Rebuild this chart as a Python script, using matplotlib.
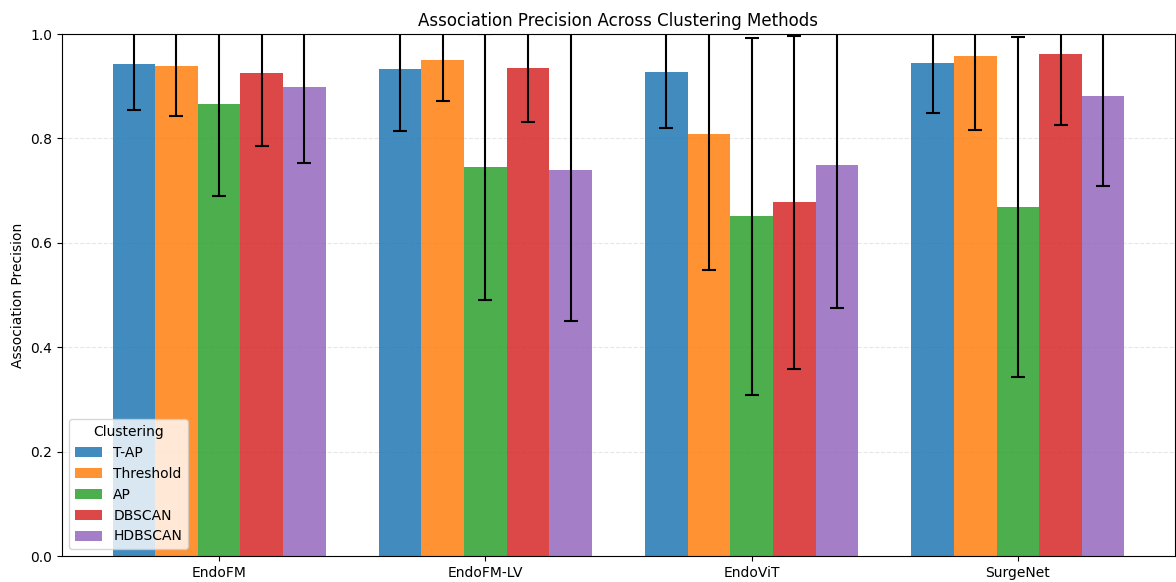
import numpy as np
import matplotlib
matplotlib.use("Agg")
import matplotlib.pyplot as plt

# mean association precision and std per backbone / clustering method
backbones = ["EndoFM", "EndoFM-LV", "EndoViT", "SurgeNet"]
methods = ["T-AP", "Threshold", "AP", "DBSCAN", "HDBSCAN"]

mean_tap = [0.942, 0.932, 0.927, 0.945]
mean_thr = [0.939, 0.951, 0.808, 0.958]
mean_ap = [0.865, 0.745, 0.651, 0.668]
mean_dbscan = [0.925, 0.935, 0.678, 0.962]
mean_hdbscan = [0.898, 0.739, 0.750, 0.881]

std_tap = [0.088, 0.117, 0.108, 0.096]
std_thr = [0.096, 0.079, 0.260, 0.141]
std_ap = [0.176, 0.255, 0.342, 0.326]
std_dbscan = [0.140, 0.103, 0.319, 0.136]
std_hdbscan = [0.146, 0.289, 0.275, 0.173]

means = [mean_tap, mean_thr, mean_ap, mean_dbscan, mean_hdbscan]
stds = [std_tap, std_thr, std_ap, std_dbscan, std_hdbscan]
colors = ["tab:blue", "tab:orange", "tab:green", "tab:red", "tab:purple"]

fig, ax = plt.subplots(figsize=(11.76, 5.82), dpi=100)
fig.subplots_adjust(left=62 / 1176, right=1175 / 1176, top=1 - 34 / 582, bottom=1 - 556 / 582)

x = np.arange(len(backbones))
width = 0.16
for i, (name, m, s) in enumerate(zip(methods, means, stds)):
    ax.bar(x + (i - 2) * width, m, width, yerr=s, capsize=5, label=name,
           color=colors[i], alpha=0.85, error_kw=dict(elinewidth=1.5, capthick=1.5))

ax.set_xticks(x)
ax.set_xticklabels(backbones)
ax.set_ylim(0, 1)
ax.set_ylabel("Association Precision")
ax.set_title("Association Precision Across Clustering Methods")
ax.grid(axis="y", linestyle="--", alpha=0.3)
ax.set_axisbelow(True)
ax.legend(title="Clustering", loc="lower left")

fig.savefig("out.png", dpi=100)
